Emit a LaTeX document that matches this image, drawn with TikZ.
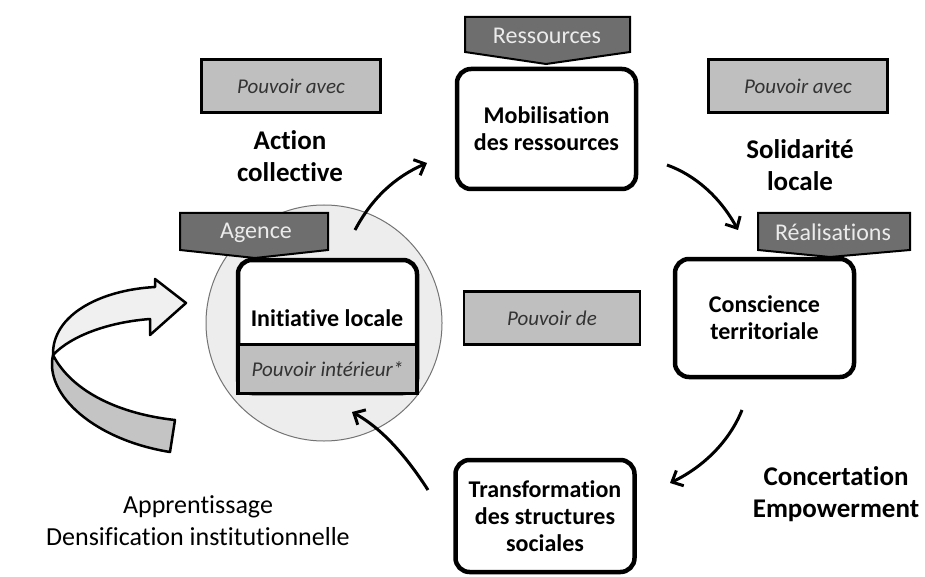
\documentclass[tikz,border=0pt]{standalone}
\usepackage{fontspec}
\setmainfont{Carlito}[Ligatures=NoCommon]
\usetikzlibrary{arrows.meta}

\begin{document}
\begin{tikzpicture}[x=1pt,y=-1pt,
  etape/.style={draw=black, line width=4.5pt, rounded corners=14pt, fill=white, minimum width=179pt, align=center, font=\fontsize{24}{27}\selectfont\bfseries},
  pouvoir/.style={draw=black, line width=2.5pt, fill=black!25, minimum width=179pt, minimum height=53pt, font=\fontsize{21}{24}\selectfont\itshape, text=black!80},
  titre/.style={align=center, font=\fontsize{27}{32}\selectfont\bfseries},
  etiquette/.style={draw=black, line width=2pt, fill=black!57},
  etiqtexte/.style={text=black!8, font=\fontsize{24}{27}\selectfont},
  fleche/.style={line width=3pt, -{Straight Barb[length=9pt,width=17pt]}}]

  \fill[white] (0,0) rectangle (925,577);
  \useasboundingbox (0,0) rectangle (925,577);

  % cercle autour de l'initiative
  \draw[draw=black!55, line width=1pt, fill=black!7] (324,323) circle (118);

  % grande fleche (apprentissage)
  \draw[line width=2.5pt, fill=black!23, line join=round] (53,355) .. controls (44,395) and (95,440) .. (170,452) -- (175,420) .. controls (120,414) and (72,392) .. (53,355) -- cycle;
  \draw[line width=2.5pt, fill=black!6, line join=round] (53,355) .. controls (52,315) and (100,290) .. (155,287) -- (155,279) -- (186,303) -- (150,335) -- (150,319) .. controls (110,322) and (72,335) .. (53,355) -- cycle;

  % etapes
  \node[etape, minimum height=120pt] (mob) at (546.5,129) {Mobilisation\\des ressources};
  \node[etape, minimum height=118pt] (cons) at (764.5,318) {Conscience\\territoriale};
  \node[etape, minimum height=112pt] (trans) at (545,516) {Transformation\\des structures\\sociales};
  \node[etape, minimum height=133pt] (init) at (327.5,326.5) {};
  \node[pouvoir, line width=3.5pt, minimum height=49pt] (interieur) at (327.5,369) {Pouvoir intérieur*};
  \node[font=\fontsize{24}{27}\selectfont\bfseries] (initxt) at (327,318) {Initiative locale};

  \node[pouvoir] (avec1) at (291,86) {Pouvoir avec};
  \node[pouvoir] (avec2) at (798,86) {Pouvoir avec};
  \node[pouvoir, minimum width=176pt] (de) at (552,318) {Pouvoir de};

  % etiquettes
  \draw[etiquette] (465,17) -- (630,17) -- (630,52) -- (546,64) -- (465,52) -- cycle;
  \node[etiqtexte] (res) at (547,36) {Ressources};
  \draw[etiquette] (180,213) -- (328,213) -- (328,250) -- (255,258) -- (180,250) -- cycle;
  \node[etiqtexte] (agence) at (256,233) {Agence};
  \draw[etiquette] (758,213) -- (910,213) -- (910,250) -- (830,257) -- (758,250) -- cycle;
  \node[etiqtexte] (real) at (833,232) {Réalisations};

  % titres
  \node[titre] (action) at (290,156) {Action\\collective};
  \node[titre] (solid) at (800,165) {Solidarité\\locale};
  \node[titre] (concert) at (836,494) {Concertation\\Empowerment};
  \node[align=center, font=\fontsize{26}{32}\selectfont] (appr) at (198,521) {Apprentissage\\Densification institutionnelle};

  % fleches du cycle
  \coordinate (f1a) at (355,230);
  \coordinate (f1b) at (427,163);
  \coordinate (f2a) at (667,165);
  \coordinate (f2b) at (738,230);
  \coordinate (f3a) at (742,410);
  \coordinate (f3b) at (670,483);
  \coordinate (f4a) at (428,490);
  \coordinate (f4b) at (352,412);
  \draw[fleche] (f1a) .. controls (372,198) and (395,177) .. (f1b);
  \draw[fleche] (f2a) .. controls (695,175) and (720,197) .. (f2b);
  \draw[fleche] (f3a) .. controls (730,440) and (705,466) .. (f3b);
  \draw[fleche] (f4a) .. controls (410,462) and (385,430) .. (f4b);

\end{tikzpicture}
\end{document}
